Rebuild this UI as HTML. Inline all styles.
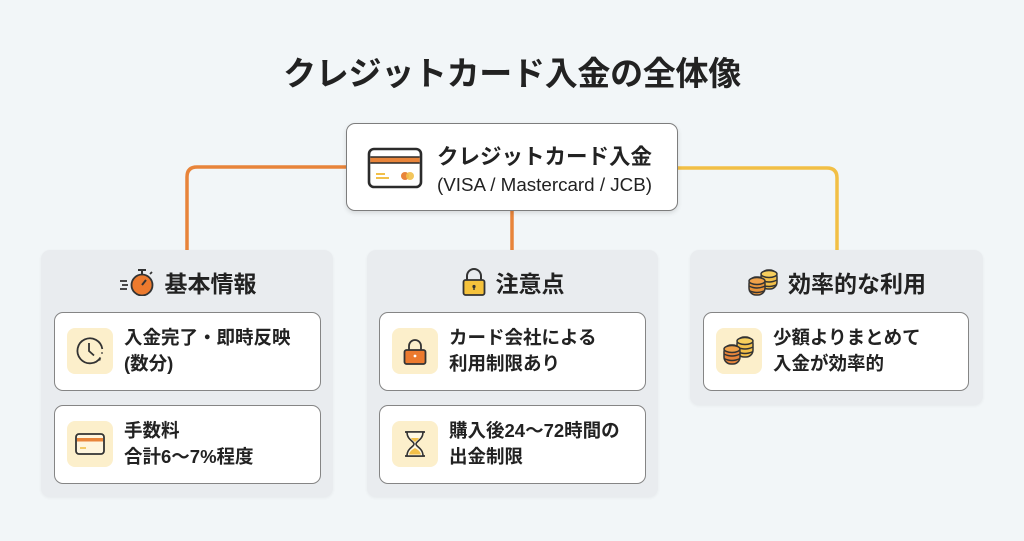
<!DOCTYPE html>
<html><head><meta charset="utf-8">
<style>
*{margin:0;padding:0;box-sizing:border-box}
body{width:1024px;height:541px;background:#f2f6f8;position:relative;overflow:hidden;font-family:"Liberation Sans","Noto Sans CJK JP",sans-serif;color:#222}
.title{position:absolute;left:0;width:1024px;top:47px;text-align:center;font-size:33px;font-weight:700;line-height:48px;letter-spacing:-0.3px;font-family:"Noto Sans CJK JP",sans-serif}
.root{position:absolute;left:346px;top:123px;width:332px;height:88px;background:#fff;border:1.5px solid #7d7d7d;border-radius:9px;box-shadow:0 2px 5px rgba(0,0,0,.12)}
.root .t1{position:absolute;left:90px;top:17px;font-size:21.5px;font-weight:700;line-height:30px;font-family:"Noto Sans CJK JP",sans-serif;white-space:nowrap}
.root .t2{position:absolute;left:90px;top:48px;font-size:18.8px;line-height:26px;white-space:nowrap;color:#222}
.panel{position:absolute;background:#e9ecef;border-radius:9px;box-shadow:0 1px 3px rgba(0,0,0,.05)}
.hdr{position:absolute;left:0;right:0;top:17px;height:30px;display:flex;justify-content:center;align-items:center;gap:9px;font-size:23px;font-weight:700;font-family:"Noto Sans CJK JP",sans-serif;line-height:30px}
.item{position:absolute;width:267px;height:79px;background:#fff;border:1.5px solid #858585;border-radius:9px}
.ico{position:absolute;left:12px;top:15px;width:46px;height:46px;background:#fcefcb;border-radius:8px}
.ico svg{position:absolute;left:0;top:0}
.txt{position:absolute;left:69px;top:0;height:76px;display:flex;align-items:center;font-size:18.5px;font-weight:700;line-height:26px;font-family:"Liberation Sans","Noto Sans CJK JP",sans-serif;white-space:nowrap}
</style></head><body>
<div class="title">クレジットカード入金の全体像</div>

<svg width="1024" height="541" style="position:absolute;left:0;top:0">
<path d="M346 167 H197 Q187 167 187 177 V251" fill="none" stroke="#e8843a" stroke-width="3.5"/>
<path d="M512 211 V251" fill="none" stroke="#e8843a" stroke-width="3.5"/>
<path d="M678 168 H827 Q837 168 837 178 V251" fill="none" stroke="#f2bf45" stroke-width="3.5"/>
</svg>

<div class="root">
 <svg width="56" height="42" style="position:absolute;left:20px;top:23px" viewBox="0 0 56 42">
  <rect x="2" y="2" width="52" height="38" rx="5" fill="#fff" stroke="#2b2b2b" stroke-width="2.6"/>
  <rect x="3.3" y="10" width="49.4" height="6" fill="#e8843a"/>
  <line x1="3.3" y1="10" x2="52.7" y2="10" stroke="#2b2b2b" stroke-width="1.5"/>
  <line x1="3.3" y1="16" x2="52.7" y2="16" stroke="#2b2b2b" stroke-width="1.5"/>
  <line x1="9" y1="27" x2="18" y2="27" stroke="#f2c04a" stroke-width="2"/>
  <line x1="9" y1="31" x2="22" y2="31" stroke="#f2c04a" stroke-width="2"/>
  <circle cx="38" cy="29" r="4" fill="#e8843a"/>
  <circle cx="43" cy="29" r="4" fill="#f2c04a" opacity=".9"/>
 </svg>
 <div class="t1">クレジットカード入金</div>
 <div class="t2">(VISA / Mastercard / JCB)</div>
</div>

<!-- Left panel -->
<div class="panel" style="left:41px;top:250px;width:292px;height:247px">
 <div class="hdr">
  <svg width="38" height="28" viewBox="0 0 38 28">
   <line x1="2" y1="13" x2="9" y2="13" stroke="#333" stroke-width="1.8"/>
   <line x1="4" y1="17" x2="10" y2="17" stroke="#333" stroke-width="1.8"/>
   <line x1="2" y1="21" x2="9" y2="21" stroke="#333" stroke-width="1.8"/>
   <line x1="24" y1="2" x2="24" y2="6" stroke="#333" stroke-width="2"/>
   <line x1="20" y1="2" x2="28" y2="2" stroke="#333" stroke-width="2"/>
   <line x1="32" y1="6" x2="34" y2="4" stroke="#333" stroke-width="1.8"/>
   <circle cx="24" cy="17" r="10.5" fill="#ec7a2e" stroke="#333" stroke-width="1.8"/>
   <line x1="24" y1="17" x2="28" y2="12" stroke="#333" stroke-width="2"/>
  </svg>
  <span>基本情報</span>
 </div>
 <div class="item" style="left:13px;top:62px">
  <div class="ico"><svg width="46" height="46" viewBox="0 0 46 46">
   <path d="M33.5 29.5 A12.5 12.5 0 1 1 35.3 21" fill="none" stroke="#333" stroke-width="1.8"/>
   <circle cx="35" cy="25" r=".9" fill="#333"/><circle cx="32.8" cy="31.8" r=".9" fill="#333"/>
   <path d="M22 15 V23 L27 27.5" fill="none" stroke="#333" stroke-width="1.8"/>
  </svg></div>
  <div class="txt">入金完了・即時反映<br>(数分)</div>
 </div>
 <div class="item" style="left:13px;top:155px">
  <div class="ico"><svg width="46" height="46" viewBox="0 0 46 46">
   <rect x="9" y="13" width="28" height="20" rx="3" fill="#fff5dd" stroke="#333" stroke-width="1.8"/>
   <rect x="10" y="17" width="26" height="3.5" fill="#e8843a"/>
   <line x1="13" y1="27" x2="19" y2="27" stroke="#f2c04a" stroke-width="1.6"/>
  </svg></div>
  <div class="txt">手数料<br>合計6～7%程度</div>
 </div>
</div>

<!-- Middle panel -->
<div class="panel" style="left:367px;top:250px;width:291px;height:247px">
 <div class="hdr">
  <svg width="26" height="30" viewBox="0 0 26 30">
   <path d="M6 13 V9 A7 7 0 0 1 20 9 V13" fill="none" stroke="#333" stroke-width="2"/>
   <rect x="2.5" y="13" width="21" height="15" rx="2" fill="#f5c23c" stroke="#333" stroke-width="1.8"/>
   <circle cx="13" cy="19.5" r="1.6" fill="#333"/><line x1="13" y1="20" x2="13" y2="23" stroke="#333" stroke-width="1.4"/>
  </svg>
  <span>注意点</span>
 </div>
 <div class="item" style="left:12px;top:62px">
  <div class="ico"><svg width="46" height="46" viewBox="0 0 46 46">
   <path d="M17 22 V18 A6 6 0 0 1 29 18 V22" fill="none" stroke="#333" stroke-width="1.8"/>
   <rect x="12.5" y="22" width="21" height="14" rx="2" fill="#ec7a2e" stroke="#333" stroke-width="1.8"/>
   <circle cx="23" cy="28" r="1.4" fill="#fff"/>
  </svg></div>
  <div class="txt">カード会社による<br>利用制限あり</div>
 </div>
 <div class="item" style="left:12px;top:155px">
  <div class="ico"><svg width="46" height="46" viewBox="0 0 46 46">
   <line x1="13" y1="11" x2="33" y2="11" stroke="#333" stroke-width="1.8"/>
   <line x1="13" y1="35" x2="33" y2="35" stroke="#333" stroke-width="1.8"/>
   <path d="M15 11 C15 19 22 20 22 23 C22 26 15 27 15 35 H31 C31 27 24 26 24 23 C24 20 31 19 31 11 Z" fill="#fff8e3" stroke="#333" stroke-width="1.6"/>
   <path d="M17 33.5 C18 29 22 28 23 27 C24 28 28 29 29 33.5 Z" fill="#f2c04a"/>
   <path d="M19 17 H27 C26 19 24 20 23 21 C22 20 20 19 19 17Z" fill="#f2c04a"/>
  </svg></div>
  <div class="txt">購入後24～72時間の<br>出金制限</div>
 </div>
</div>

<!-- Right panel -->
<div class="panel" style="left:690px;top:250px;width:293px;height:155px">
 <div class="hdr">
  <svg width="32" height="28" viewBox="0 0 32 28">
   <g stroke="#333" stroke-width="1.5">
    <rect x="14" y="2" width="16" height="19" rx="7" fill="#f2c04a"/>
    <ellipse cx="22" cy="6" rx="8" ry="3.5" fill="#f7cf5e"/>
    <path d="M14 12 Q22 16 30 12 M14 16.5 Q22 20.5 30 16.5" fill="none"/>
    <rect x="2" y="9" width="16" height="18" rx="7" fill="#e8943a"/>
    <ellipse cx="10" cy="13" rx="8" ry="3.5" fill="#f0a24a"/>
    <path d="M2 18 Q10 22 18 18 M2 22.5 Q10 26.5 18 22.5" fill="none"/>
   </g>
  </svg>
  <span>効率的な利用</span>
 </div>
 <div class="item" style="left:13px;top:62px;width:266px">
  <div class="ico"><svg width="46" height="46" viewBox="0 0 46 46">
   <g stroke="#333" stroke-width="1.5">
    <rect x="21" y="9" width="16" height="20" rx="7" fill="#f2c04a"/>
    <ellipse cx="29" cy="13" rx="8" ry="3.5" fill="#f7cf5e"/>
    <path d="M21 19 Q29 23 37 19 M21 23.5 Q29 27.5 37 23.5" fill="none"/>
    <rect x="8" y="17" width="16" height="19" rx="7" fill="#e8843a"/>
    <ellipse cx="16" cy="21" rx="8" ry="3.5" fill="#f0a24a"/>
    <path d="M8 26 Q16 30 24 26 M8 30.5 Q16 34.5 24 30.5" fill="none"/>
   </g>
  </svg></div>
  <div class="txt">少額よりまとめて<br>入金が効率的</div>
 </div>
</div>
</body></html>
